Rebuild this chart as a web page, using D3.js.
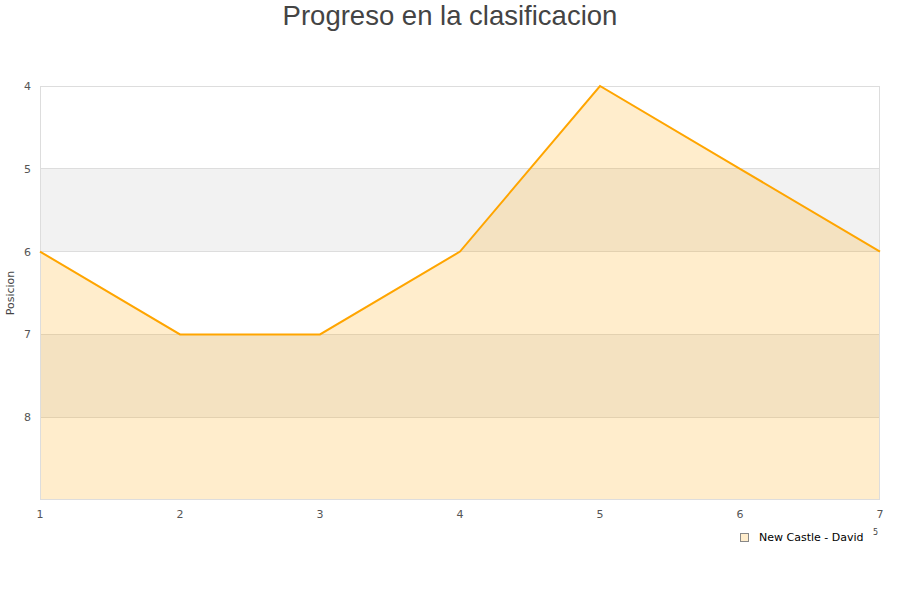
<!DOCTYPE html>
<html><head><meta charset="utf-8">
<script src="https://cdn.jsdelivr.net/npm/d3@7"></script>
<style>body{margin:0;background:#fff}svg{display:block}</style>
</head><body><svg id="c" width="900" height="600"></svg>
<script>
const rounds = [1,2,3,4,5,6,7];
const positions = [6,7,7,6,4,5,6];
const yTicks = [4,5,6,7,8];
const seriesName = "New Castle - David";
const title = "Progreso en la clasificacion";
const yLabel = "Posicion";

const svg = d3.select("#c");
const L=40,R=880,T=86,B=500;
const x = d3.scaleLinear().domain([1,7]).range([L,R]);
const y = d3.scaleLinear().domain([4,9]).range([T,B]);
const g = svg.append("g");
[[5,6],[7,8]].forEach(b=>{
  g.append("rect").attr("x",L).attr("y",y(b[0])).attr("width",R-L).attr("height",y(b[1])-y(b[0])).attr("fill","#f2f2f2");
});
[5,6,7,8].forEach(v=>{
  g.append("line").attr("x1",L).attr("x2",R).attr("y1",y(v)).attr("y2",y(v)).attr("stroke","#dddddd").attr("stroke-width",1).attr("shape-rendering","crispEdges");
});
const data = rounds.map((r,i)=>({r,p:positions[i]}));
g.append("path").datum(data).attr("d",d3.area().x(d=>x(d.r)).y0(B).y1(d=>y(d.p)))
  .attr("fill","#ffa500").attr("fill-opacity",0.2);
g.append("rect").attr("x",L+0.5).attr("y",T+0.5).attr("width",R-L-1).attr("height",B-T-1).attr("fill","none").attr("stroke","#dddddd");
g.append("path").datum(data).attr("d",d3.line().x(d=>x(d.r)).y(d=>y(d.p)))
  .attr("fill","none").attr("stroke","#ffa500").attr("stroke-width",2);
const f="DejaVu Sans, sans-serif";
yTicks.forEach(v=>{
  svg.append("text").attr("x",31).attr("y",y(v)+4).attr("text-anchor","end").attr("font-family",f).attr("font-size",11).attr("fill","#555").text(v);
});
rounds.forEach(v=>{
  svg.append("text").attr("x",x(v)).attr("y",518).attr("text-anchor","middle").attr("font-family",f).attr("font-size",11).attr("fill","#555").text(v);
});
svg.append("text").attr("transform","translate(14,293) rotate(-90)").attr("text-anchor","middle").attr("font-family",f).attr("font-size",11).attr("fill","#444").text(yLabel);
svg.append("text").attr("x",450).attr("y",25).attr("text-anchor","middle").attr("font-family","Liberation Sans, Arial, sans-serif").attr("font-size",27.5).attr("fill","#444").text(title);
svg.append("rect").attr("x",740.5).attr("y",533.5).attr("width",8).attr("height",8).attr("fill","#ffedcc").attr("stroke","#888");
svg.append("text").attr("x",759).attr("y",541).attr("font-family",f).attr("font-size",11).attr("fill","#000").text(seriesName);
svg.append("text").attr("x",873).attr("y",535).attr("font-family",f).attr("font-size",8).attr("fill","#444").text("5");
</script></body></html>
